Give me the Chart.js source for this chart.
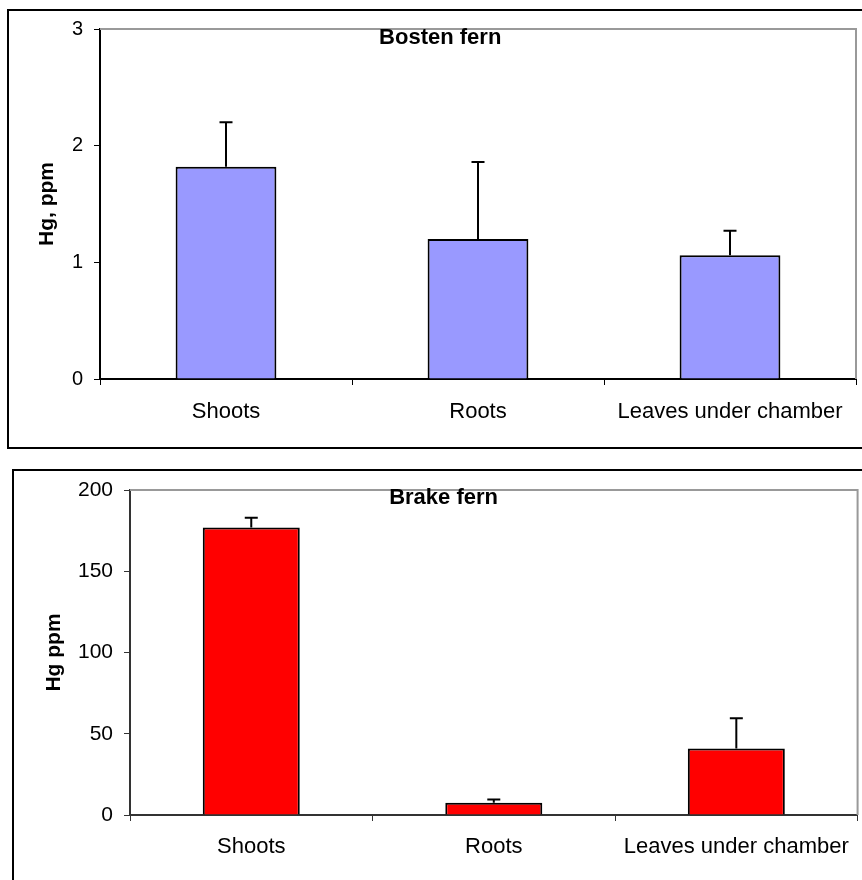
<!DOCTYPE html>
<html>
<head>
<meta charset="utf-8">
<script src="https://cdn.jsdelivr.net/npm/chart.js@4/dist/chart.umd.min.js"></script>
<style>
    body { margin: 0; background: #fff; width: 862px; height: 880px; overflow: hidden; position: relative; }
    .frame { position: absolute; border: 2px solid #000; }
    canvas { position: absolute; left: 0; }
</style>
</head>
<body>
<div class="frame" style="left:7px; top:9px; width:900px; height:436px;"></div>
<div class="frame" style="left:12px; top:469px; width:900px; height:500px;"></div>
<canvas id="chart-bosten" width="862" height="450" style="top:0;"></canvas>
<canvas id="chart-brake" width="862" height="425" style="top:455px;"></canvas>
<script>
var categories = ['Shoots', 'Roots', 'Leaves under chamber'];

var bostenValues = [1.82, 1.20, 1.06];
var bostenErrors = [0.38, 0.66, 0.21];
var bostenTicks = [0, 1, 2, 3];

var brakeValues = [177, 7.5, 41];
var brakeErrors = [6, 2, 18.5];
var brakeTicks = [0, 50, 100, 150, 200];

var fontFamily = "'Liberation Sans', Arial, sans-serif";

// plot area border (grey top/right like Excel)
var plotBorder = {
    id: 'plotBorder',
    beforeDatasetsDraw: function (chart) {
        var a = chart.chartArea;
        var ctx = chart.ctx;
        ctx.save();
        ctx.strokeStyle = '#999';
        ctx.lineWidth = 2;
        ctx.beginPath();
        ctx.moveTo(a.left, a.top);
        ctx.lineTo(a.right, a.top);
        ctx.lineTo(a.right, a.bottom);
        ctx.stroke();
        ctx.restore();
    }
};

// plus-only error bars
var errorBars = {
    id: 'errorBars',
    afterDatasetsDraw: function (chart) {
        var ctx = chart.ctx;
        var yScale = chart.scales.y;
        chart.data.datasets.forEach(function (ds, di) {
            var meta = chart.getDatasetMeta(di);
            meta.data.forEach(function (bar, i) {
                var top = yScale.getPixelForValue(ds.data[i] + ds.errors[i]);
                ctx.save();
                ctx.strokeStyle = '#000';
                ctx.lineWidth = 2;
                ctx.beginPath();
                ctx.moveTo(bar.x, bar.y);
                ctx.lineTo(bar.x, top);
                ctx.moveTo(bar.x - 6.5, top);
                ctx.lineTo(bar.x + 6.5, top);
                ctx.stroke();
                ctx.restore();
            });
        });
    }
};

// title drawn inside the plot area
var innerTitle = {
    id: 'innerTitle',
    afterDraw: function (chart, args, opts) {
        var ctx = chart.ctx;
        var a = chart.chartArea;
        ctx.save();
        ctx.font = 'bold 22px ' + fontFamily;
        ctx.fillStyle = '#000';
        ctx.textAlign = 'center';
        ctx.textBaseline = 'middle';
        ctx.fillText(opts.text, a.left + opts.xFrac * (a.right - a.left), a.top + opts.dy);
        ctx.restore();
    }
};

function makeChart(canvasId, values, errors, ticks, color, yLabel, opts) {
    var ctx = document.getElementById(canvasId).getContext('2d');
    var data = {
        labels: categories,
        datasets: [{
            data: values,
            errors: errors,
            backgroundColor: color,
            borderColor: '#000',
            borderWidth: 2,
            barPercentage: 0.4,
            categoryPercentage: 1.0
        }]
    };

    return new Chart(ctx, {
        type: 'bar',
        data: data,
        plugins: [plotBorder, errorBars, innerTitle],
        options: {
            responsive: false,
            animation: false,
            events: [],
            layout: { padding: { left: 0, top: opts.top, right: opts.right, bottom: 0 } },
            plugins: {
                legend: { display: false },
                tooltip: { enabled: false },
                innerTitle: { text: opts.title, xFrac: opts.titleX, dy: opts.titleDy }
            },
            scales: {
                x: {
                    afterFit: function (scale) { scale.height = opts.xHeight; },
                    grid: { drawOnChartArea: false, tickLength: 6, color: opts.axisColor, lineWidth: 1 },
                    border: { color: opts.axisColor, width: 2 },
                    ticks: {
                        color: '#000',
                        padding: opts.xPad,
                        maxRotation: 0,
                        font: { family: fontFamily, size: 22 }
                    }
                },
                y: {
                    min: ticks[0],
                    max: ticks[ticks.length - 1],
                    afterFit: function (scale) { scale.width = opts.yWidth; },
                    afterBuildTicks: function (scale) {
                        scale.ticks = ticks.map(function (v) { return { value: v }; });
                    },
                    grid: { drawOnChartArea: false, tickLength: 6, color: opts.axisColor, lineWidth: 1 },
                    border: { color: opts.axisColor, width: 2 },
                    title: {
                        display: true,
                        text: yLabel,
                        color: '#000',
                        padding: { top: opts.yTitlePad, bottom: 0 },
                        font: { family: fontFamily, size: 21, weight: 'bold' }
                    },
                    ticks: {
                        color: '#000',
                        padding: 11,
                        font: { family: fontFamily, size: opts.yFont }
                    }
                }
            }
        }
    });
}

makeChart('chart-bosten', bostenValues, bostenErrors, bostenTicks, '#9999FF', 'Hg, ppm', {
    top: 29, right: 6, xHeight: 71, yWidth: 100, xPad: 14, yTitlePad: 35, yFont: 20,
    axisColor: '#000', title: 'Bosten fern', titleX: 0.45, titleDy: 9
});

makeChart('chart-brake', brakeValues, brakeErrors, brakeTicks, '#FF0000', 'Hg ppm', {
    top: 35, right: 1, xHeight: 65, yWidth: 130, xPad: 13, yTitlePad: 42, yFont: 21,
    axisColor: '#333', title: 'Brake fern', titleX: 0.431, titleDy: 8
});
</script>
</body>
</html>
